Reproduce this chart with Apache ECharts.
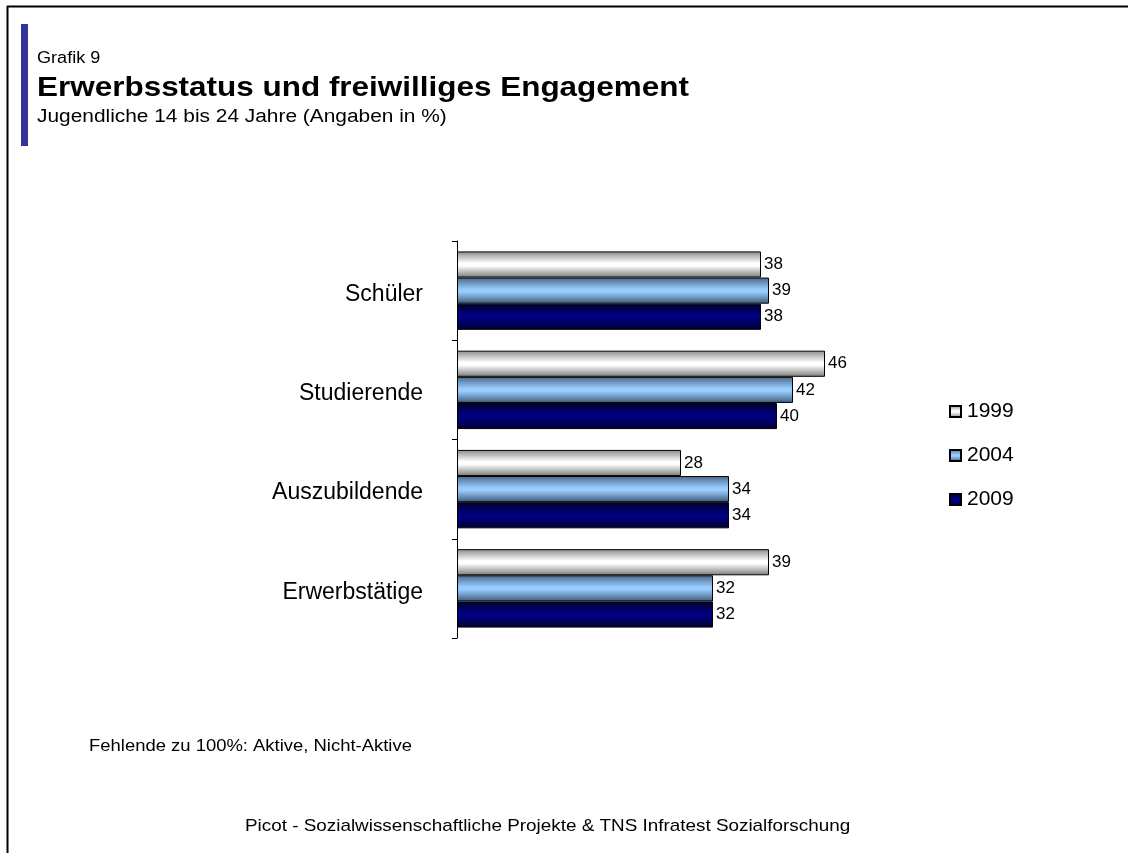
<!DOCTYPE html>
<html>
<head>
<meta charset="utf-8">
<script src="https://cdn.jsdelivr.net/npm/echarts@6/dist/echarts.min.js"></script>
<style>
  html, body { margin: 0; padding: 0; background: #fff; }
  #chart { width: 1128px; height: 853px; }
</style>
</head>
<body>
<div id="chart"></div>
<script>
// Groups and survey waves
const categories = ['Schüler', 'Studierende', 'Auszubildende', 'Erwerbstätige'];
const years = ['1999', '2004', '2009'];

// Share of engaged young people (%) per group
const values1999 = [38, 46, 28, 39];
const values2004 = [39, 42, 34, 32];
const values2009 = [38, 40, 34, 32];

const FONT = 'Liberation Sans, Arial, sans-serif';

// Bar fills: shaded top/bottom edges with a lighter middle
function shade(edgeTop, mid, edgeBottom) {
  return new echarts.graphic.LinearGradient(0, 0, 0, 1, [
    { offset: 0, color: edgeTop },
    { offset: 0.45, color: mid },
    { offset: 0.55, color: mid },
    { offset: 1, color: edgeBottom }
  ]);
}
const fills = [
  shade('#8a8a8a', '#ffffff', '#7a7a7a'),
  shade('#4a6888', '#99ccff', '#3f5a78'),
  shade('#00002a', '#000080', '#000030')
];

const seriesValues = [values1999, values2004, values2009];

// Left-anchored text line, slightly widened
function textLine(str, x, y, font, sx) {
  return {
    type: 'text', x: x, y: y, scaleX: sx, scaleY: 1,
    style: { text: str, font: font, fill: '#000', align: 'left', verticalAlign: 'middle' }
  };
}

const chart = echarts.init(document.getElementById('chart'));
chart.setOption({
  animation: false,
  backgroundColor: '#ffffff',
  textStyle: { fontFamily: FONT },
  graphic: [
    // frame lines (top and left)
    { type: 'line', shape: { x1: 7, y1: 6.5, x2: 1128, y2: 6.5 }, style: { stroke: '#000', lineWidth: 2 } },
    { type: 'line', shape: { x1: 7.5, y1: 6, x2: 7.5, y2: 853 }, style: { stroke: '#000', lineWidth: 2 } },
    // accent bar beside the heading
    { type: 'rect', shape: { x: 21, y: 24, width: 7, height: 122 }, style: { fill: '#333399' } },
    textLine('Grafik 9', 37, 59, '16px ' + FONT, 1.13),
    textLine('Erwerbsstatus und freiwilliges Engagement', 37, 89, 'bold 27px ' + FONT, 1.165),
    textLine('Jugendliche 14 bis 24 Jahre (Angaben in %)', 37, 117, '18px ' + FONT, 1.16),
    textLine('Fehlende zu 100%: Aktive, Nicht-Aktive', 89, 746, '17px ' + FONT, 1.085),
    textLine('Picot - Sozialwissenschaftliche Projekte & TNS Infratest Sozialforschung', 245, 826, '17px ' + FONT, 1.11)
  ],
  legend: {
    orient: 'vertical',
    left: 949,
    top: 401,
    padding: 0,
    itemWidth: 11,
    itemHeight: 11,
    itemGap: 23,
    icon: 'rect',
    textStyle: { fontSize: 21, color: '#000', fontFamily: FONT, padding: [0, 0, 0, 1] },
    data: years
  },
  grid: { left: 457, top: 241, width: 400, height: 397 },
  xAxis: {
    type: 'value',
    min: 0,
    max: 50,
    show: false
  },
  yAxis: {
    type: 'category',
    inverse: true,
    data: categories,
    axisLine: { show: true, lineStyle: { color: '#000', width: 1 } },
    axisTick: { show: true, length: 5, lineStyle: { color: '#000' } },
    axisLabel: {
      margin: 34,
      color: '#000',
      formatter: '{c|{value}}',
      rich: { c: { fontSize: 23, fontFamily: FONT, color: '#000', padding: [8, 0, 0, 0] } }
    }
  },
  series: years.map((y, i) => ({
    name: y,
    type: 'bar',
    data: seriesValues[i],
    barGap: '0%',
    barCategoryGap: '21%',
    itemStyle: { color: fills[i], borderColor: '#000', borderWidth: 1 },
    label: {
      show: true,
      position: 'right',
      distance: 3,
      fontSize: 17,
      color: '#000',
      fontFamily: FONT
    }
  }))
});
</script>
</body>
</html>
